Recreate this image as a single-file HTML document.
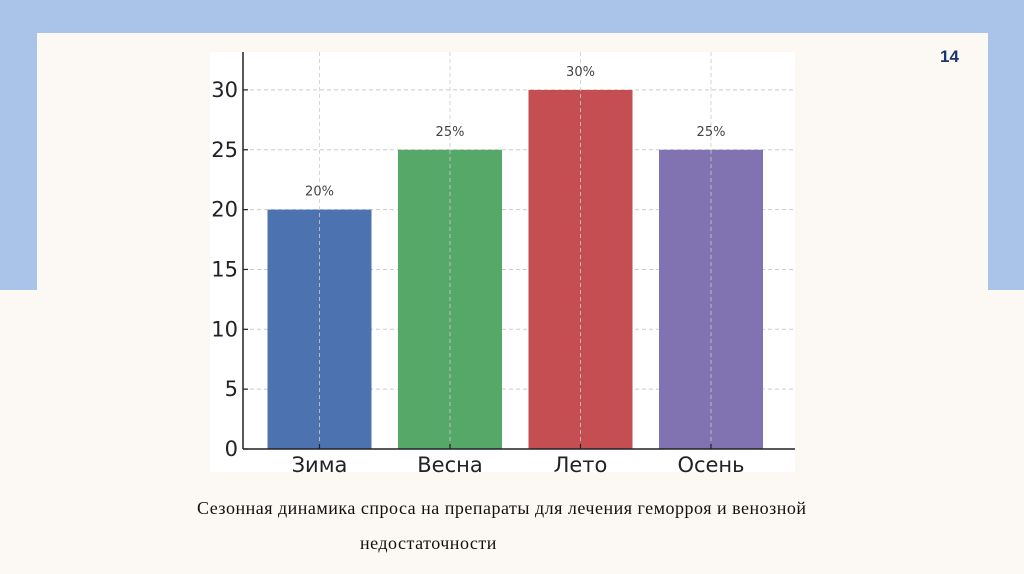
<!DOCTYPE html>
<html><head><meta charset="utf-8"><style>
body{margin:0;width:1024px;height:574px;overflow:hidden;background:#fcf9f4;position:relative;font-family:"Liberation Sans",sans-serif}
.blue{position:absolute;background:#aac3e8}
</style></head><body>
<div class="blue" style="left:0;top:0;width:1024px;height:33px"></div>
<div class="blue" style="left:0;top:0;width:37px;height:290px"></div>
<div class="blue" style="left:988px;top:0;width:36px;height:290px"></div>
<div style="position:absolute;left:940px;top:47px;font:bold 17px 'Liberation Sans',sans-serif;color:#1a3570">14</div>
<svg id="chart" style="position:absolute;left:0;top:0" width="1024" height="574"></svg>
<div style="position:absolute;left:197px;top:498px;font:18px 'Liberation Serif',serif;letter-spacing:0.5px;color:#111;white-space:nowrap">Сезонная динамика спроса на препараты для лечения геморроя и венозной</div>
<div style="position:absolute;left:360px;top:533px;font:18px 'Liberation Serif',serif;letter-spacing:0.5px;color:#111">недостаточности</div>
<script>
const categories=["Зима","Весна","Лето","Осень"];
const values=[20,25,30,25];
const labels=["20%","25%","30%","25%"];
const colors=["#4c72b0","#55a868","#c44e52","#8172b2"];
const yTicks=[0,5,10,15,20,25,30];
const NS="http://www.w3.org/2000/svg";
const svg=document.getElementById("chart");
const x0=243,x1=795,yBase=449,pxPerUnit=11.97,step=130.5,firstC=319.5,bw=104;
const y=v=>yBase-v*pxPerUnit;
const xc=i=>firstC+i*step;
function mk(t,a,p){const e=document.createElementNS(NS,t);for(const k in a)e.setAttribute(k,a[k]);(p||svg).appendChild(e);return e;}
const bg=mk("rect",{x:210,y:52,width:585,height:420,fill:"#fff"});


yTicks.forEach(t=>{
 if(t>0){const g=mk("line",{x1:x0,x2:x1,y1:y(t),y2:y(t),stroke:"#ccc","stroke-dasharray":"4,3","stroke-width":1});
 
 }
 const tk=mk("line",{x1:x0,x2:x0+5,y1:y(t),y2:y(t),stroke:"#222","stroke-width":1.2});
 
 
 const tx=mk("text",{x:x0-5,y:y(t)+7,"text-anchor":"end","font-size":21,"font-family":"DejaVu Sans, sans-serif",fill:"#222"});
 tx.textContent=t;
 
 
});
categories.forEach((c,i)=>{
 const r=mk("rect",{x:xc(i)-bw/2,y:y(values[i]),width:bw,height:yBase-y(values[i]),fill:colors[i]});
 
 
 const g=mk("line",{x1:xc(i),x2:xc(i),y1:52,y2:yBase,stroke:"#ccc","stroke-dasharray":"4,3","stroke-width":1,"stroke-opacity":0.8});
 
 
 const tk=mk("line",{x1:xc(i),x2:xc(i),y1:yBase,y2:yBase-5,stroke:"#222","stroke-width":1.2});
 
 
 const l=mk("text",{x:xc(i),y:y(values[i])-14,"text-anchor":"middle","font-size":13,"font-family":"DejaVu Sans, sans-serif",fill:"#444"});
 l.textContent=labels[i];
 
 
 const cl=mk("text",{x:xc(i),y:yBase+23,"text-anchor":"middle","font-size":21,"font-family":"DejaVu Sans, sans-serif",fill:"#222"});
 cl.textContent=c;
 
 
});
const ya=mk("line",{x1:x0,x2:x0,y1:52,y2:yBase,stroke:"#222","stroke-width":1.5});


const xa=mk("line",{x1:x0,x2:x1,y1:yBase,y2:yBase,stroke:"#222","stroke-width":1.5});


</script>
</body></html>
